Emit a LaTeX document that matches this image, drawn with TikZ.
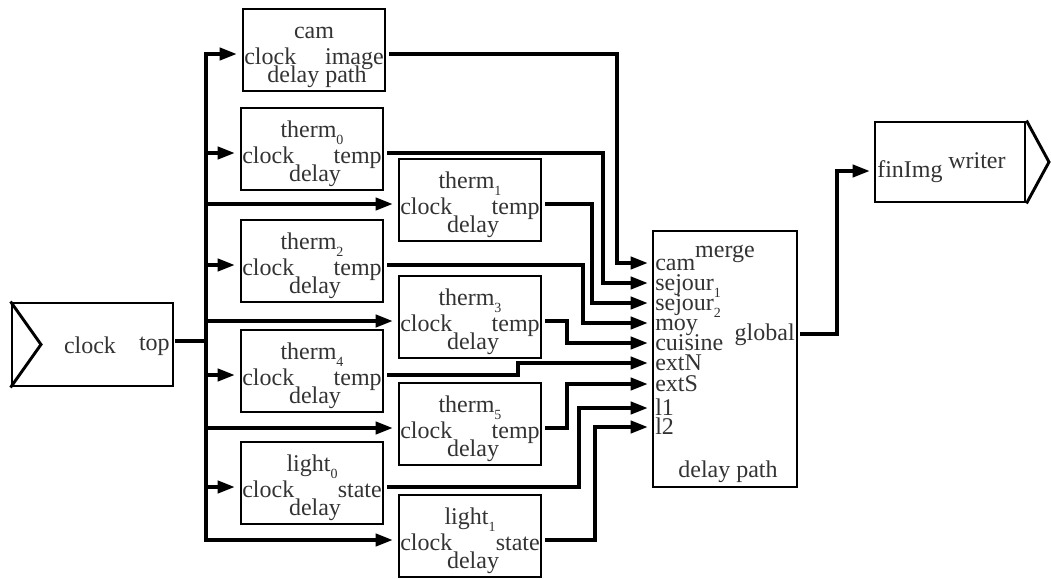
\documentclass[tikz,border=0pt]{standalone}
\usepackage{fontspec}
\setmainfont{Liberation Serif}
\usetikzlibrary{arrows.meta}
\newcommand\sub[1]{\raisebox{-5.5pt}{\fontsize{10.5}{11}\selectfont #1}}
\tikzset{
  compbox/.style={draw,line width=2.2pt,minimum width=142*0.75pt,minimum height=82*0.75pt,inner sep=0pt},
  lbl/.style={inner sep=0pt,text=black!80,font=\fontsize{18}{20}\selectfont},
  wire/.style={line width=3pt},
  arrow/.style={wire,-{Triangle[length=13pt,width=9pt]}}
}
\newcommand\comp[6]{%
  \node[compbox] (#1) at (#2,#3) {};
  \node[lbl,anchor=base] (#1-t) at (#2,#3-12) {#4};
  \node[lbl,anchor=base west] (#1-c) at (#2-70,#3+14) {clock};
  \node[lbl,anchor=base east] (#1-o) at (#2+70,#3+14) {#5};
  \node[lbl,anchor=base] (#1-d) at (#2+3,#3+32) {#6};
  \coordinate (#1-in) at (#2-77,#3+4);
  \coordinate (#1-out) at (#2+75,#3+4);
}
\begin{document}
\begin{tikzpicture}[x=0.75pt,y=-0.75pt]
\useasboundingbox (0,0) rectangle (1051,579);
% clock source
\node[draw,line width=2.2pt,minimum width=161*0.75pt,minimum height=83*0.75pt,inner sep=0pt] (clk) at (92.5,344.5) {};
\draw[line width=2.2pt,line join=miter] (clk.north west) -- (41,344.5) -- (clk.south west);
\node[lbl,anchor=base] (clk-t) at (90,353) {clock};
\node[lbl,anchor=base east] (clk-o) at (170,350) {top};
\coordinate (clk-out) at (175,341);
\coordinate (bus) at (206,341);
% components
\comp{cam}{314}{50}{cam}{image}{delay path}
\comp{th0}{312}{149}{therm\sub{0}}{temp}{delay}
\comp{th1}{470}{200}{therm\sub{1}}{temp}{delay}
\comp{th2}{312}{261}{therm\sub{2}}{temp}{delay}
\comp{th3}{470}{317}{therm\sub{3}}{temp}{delay}
\comp{th4}{312}{371}{therm\sub{4}}{temp}{delay}
\comp{th5}{470}{424}{therm\sub{5}}{temp}{delay}
\comp{li0}{312}{483}{light\sub{0}}{state}{delay}
\comp{li1}{470}{536}{light\sub{1}}{state}{delay}
% merge
\node[draw,line width=1.6pt,minimum width=144*0.75pt,minimum height=256*0.75pt,inner sep=0pt] (mrg) at (725,359) {};
\node[lbl,anchor=base] (mrg-t) at (725,257) {merge};
\node[lbl,anchor=base east] (mrg-o) at (795,340) {global};
\node[lbl,anchor=base] (mrg-d) at (728,477) {delay path};
\node[lbl,anchor=base west] (mrg-l1) at (655,270) {cam};
\node[lbl,anchor=base west] (mrg-l2) at (655,290) {sejour\sub{1}};
\node[lbl,anchor=base west] (mrg-l3) at (655,310) {sejour\sub{2}};
\node[lbl,anchor=base west] (mrg-l4) at (655,330) {moy};
\node[lbl,anchor=base west] (mrg-l5) at (655,350) {cuisine};
\node[lbl,anchor=base west] (mrg-l6) at (655,370) {extN};
\node[lbl,anchor=base west] (mrg-l7) at (655,391) {extS};
\node[lbl,anchor=base west] (mrg-l8) at (655,415) {l1};
\node[lbl,anchor=base west] (mrg-l9) at (655,434) {l2};
\coordinate (m-cam) at (648,263);
\coordinate (m-sj1) at (648,283);
\coordinate (m-sj2) at (648,303);
\coordinate (m-moy) at (648,323);
\coordinate (m-cui) at (648,343);
\coordinate (m-extN) at (648,363);
\coordinate (m-extS) at (648,384);
\coordinate (m-l1) at (648,408);
\coordinate (m-l2) at (648,427);
\coordinate (mrg-out) at (800,334);
% writer
\node[draw,line width=2.2pt,minimum width=150*0.75pt,minimum height=80*0.75pt,inner sep=0pt] (wr) at (950,162) {};
\draw[line width=2.2pt,line join=miter] (wr.north east) -- (1049,162) -- (wr.south east);
\node[lbl,anchor=base west] (wr-i) at (877,177) {finImg};
\node[lbl,anchor=base west] (wr-t) at (948,168) {writer};
\coordinate (wr-in) at (870,171);
% clock distribution
\draw[wire] (clk-out) -- (bus);
\foreach \t in {cam,th0,th1,th2,th3,th4,th5,li0,li1}
  \draw[arrow] (bus) |- (\t-in);
% outputs to merge
\draw[arrow] (cam-out) -| (617,100) |- (m-cam);
\draw[arrow] (th0-out) -| (603,200) |- (m-sj1);
\draw[arrow] (th1-out) -| (592,250) |- (m-sj2);
\draw[arrow] (th2-out) -| (583,300) |- (m-moy);
\draw[arrow] (th3-out) -| (567,330) |- (m-cui);
\draw[arrow] (th4-out) -| (518,370) |- (m-extN);
\draw[arrow] (th5-out) -| (567,400) |- (m-extS);
\draw[arrow] (li0-out) -| (579,450) |- (m-l1);
\draw[arrow] (li1-out) -| (595,480) |- (m-l2);
\draw[arrow] (mrg-out) -| (837,250) |- (wr-in);
\end{tikzpicture}
\end{document}
